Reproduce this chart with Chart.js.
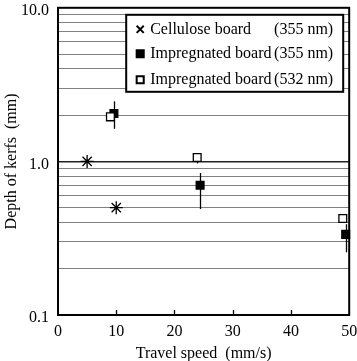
<!DOCTYPE html>
<html><head><meta charset="utf-8">
<script src="https://cdn.jsdelivr.net/npm/chart.js@4/dist/chart.umd.min.js"></script>
<style>html,body{margin:0;padding:0;background:#fff;overflow:hidden}#wrap{width:357px;height:361px;position:relative}</style>
</head><body><div id="wrap"><canvas id="c"></canvas></div>
<script>
const xTickValues = [0, 10, 20, 30, 40, 50];
const yTickLabels = [0.1, 1, 10];
const seriesNames = ['Cellulose board', 'Impregnated board', 'Impregnated board'];
const seriesWavelengths = ['(355 nm)', '(355 nm)', '(532 nm)'];
const celluloseSpeed = [5, 10];
const celluloseDepth = [1.0, 0.5];
const imp355Speed = [9.6, 24.4, 49.4];
const imp355Depth = [2.05, 0.70, 0.335];
const imp355Low = [1.63, 0.49, 0.256];
const imp355High = [2.46, 0.84, 0.39];
const imp532Speed = [9.0, 23.9, 48.9];
const imp532Depth = [1.95, 1.06, 0.425];
const imp532Low = [null, 0.97, null];
const imp532High = [null, 1.13, null];

const FONT = {family: "'Liberation Serif', 'Times New Roman', serif", size: 16};
const pts = (xs, ys) => xs.map((x, i) => ({x: x, y: ys[i]}));

const errorBars = {
  id: 'errorBars',
  beforeDatasetsDraw(chart) {
    const ctx = chart.ctx, xs = chart.scales.x, ys = chart.scales.y;
    const sets = [[imp355Speed, imp355Low, imp355High], [imp532Speed, imp532Low, imp532High]];
    ctx.save();
    ctx.strokeStyle = '#000';
    ctx.lineWidth = 1.3;
    sets.forEach(([sx, lo, hi]) => {
      sx.forEach((v, i) => {
        if (lo[i] == null) return;
        const px = Math.round(xs.getPixelForValue(v)) + 0.5;
        ctx.beginPath();
        ctx.moveTo(px, ys.getPixelForValue(lo[i]));
        ctx.lineTo(px, ys.getPixelForValue(hi[i]));
        ctx.stroke();
      });
    });
    ctx.restore();
  }
};

function marker(ctx, style, r, x, y, fill) {
  if (Chart.helpers && Chart.helpers.drawPoint) {
    ctx.fillStyle = fill; ctx.strokeStyle = '#000';
    Chart.helpers.drawPoint(ctx, {pointStyle: style, radius: r, rotation: 0, borderWidth: 1.1}, x, y);
  }
}

const frameLegend = {
  id: 'frameLegend',
  afterDatasetsDraw(chart) {
    const ctx = chart.ctx, a = chart.chartArea, xs = chart.scales.x;
    ctx.save();
    ctx.strokeStyle = '#000';
    ctx.lineWidth = 1.3;
    xTickValues.forEach(v => {
      if (v === xs.min || v === xs.max) return;
      const px = Math.round(xs.getPixelForValue(v)) + 0.5;
      ctx.beginPath(); ctx.moveTo(px, a.bottom); ctx.lineTo(px, a.bottom - 5); ctx.stroke();
    });
    ctx.lineWidth = 2;
    ctx.strokeRect(a.left, a.top, a.right - a.left, a.bottom - a.top);
    ctx.restore();
  },
  afterDraw(chart) {
    const ctx = chart.ctx, a = chart.chartArea;
    const L = a.right - 223, T = a.top + 7, R = a.right - 6, B = a.top + 84;
    ctx.save();
    ctx.fillStyle = '#fff';
    ctx.fillRect(L, T, R - L, B - T);
    ctx.strokeStyle = '#000'; ctx.lineWidth = 2;
    ctx.strokeRect(L, T, R - L, B - T);
    const rows = [T + 14.5, T + 39, T + 65];
    const styles = [['crossRot', 5, '#000'], ['rect', 5, '#000'], ['rect', 5, '#fff']];
    ctx.font = `${FONT.size}px ${FONT.family}`;
    ctx.textBaseline = 'middle';
    rows.forEach((y, i) => {
      marker(ctx, styles[i][0], styles[i][1], L + 14, y, styles[i][2]);
      ctx.fillStyle = '#000';
      ctx.textAlign = 'left';
      ctx.fillText(seriesNames[i], L + 24, y);
      ctx.textAlign = 'right';
      ctx.fillText(seriesWavelengths[i], R - 10, y);
    });
    ctx.restore();
  }
};

new Chart(document.getElementById('c'), {
  type: 'scatter',
  data: {
    datasets: [
      {label: seriesNames[2] + ' ' + seriesWavelengths[2], data: pts(imp532Speed, imp532Depth), order: 0,
       pointStyle: 'rect', pointRadius: 5.5, backgroundColor: '#fff', borderColor: '#000', borderWidth: 1.3, clip: false},
      {label: seriesNames[1] + ' ' + seriesWavelengths[1], data: pts(imp355Speed, imp355Depth), order: 1,
       pointStyle: 'rect', pointRadius: 5.5, backgroundColor: '#000', borderColor: '#000', borderWidth: 1.3, clip: false},
      {label: seriesNames[0] + ' ' + seriesWavelengths[0], data: pts(celluloseSpeed, celluloseDepth), order: 2,
       pointStyle: 'star', pointRadius: 6.5, backgroundColor: '#000', borderColor: '#000', borderWidth: 1.3, clip: false}
    ]
  },
  options: {
    responsive: true, maintainAspectRatio: false, animation: false,
    layout: {padding: {top: 5, right: 5, left: 0, bottom: 0}},
    plugins: {legend: {display: false}, tooltip: {enabled: false}},
    scales: {
      x: {
        type: 'linear', min: 0, max: 50,
        afterBuildTicks(s) { s.ticks = xTickValues.map(v => ({value: v})); },
        ticks: {font: FONT, color: '#000', padding: 7, autoSkip: false, maxRotation: 0},
        grid: {display: false, drawTicks: false},
        border: {display: false},
        title: {display: true, text: 'Travel speed  (mm/s)', font: FONT, color: '#000', padding: {top: 0, bottom: -2}},
        afterFit(s) { s.height = 46; s.paddingLeft = 0; s.paddingRight = 0; }
      },
      y: {
        type: 'logarithmic', min: 0.1, max: 10,
        afterBuildTicks(s) {
          const t = [];
          [0.1, 1].forEach(d => { for (let k = 1; k < 10; k++) t.push({value: +(d * k).toFixed(2)}); });
          t.push({value: 10});
          s.ticks = t;
        },
        ticks: {font: FONT, color: '#000', padding: 9, autoSkip: false, labelOffset: 3,
                callback: v => yTickLabels.includes(v) ? Number(v).toFixed(1) : ''},
        grid: {drawTicks: false,
               color: c => (c.tick && c.tick.value === 1) ? '#222' : '#808080',
               lineWidth: c => (c.tick && c.tick.value === 1) ? 1.6 : 1},
        border: {display: false},
        title: {display: true, text: 'Depth of kerfs  (mm)', font: FONT, color: '#000', padding: {top: 2, bottom: 0}},
        afterFit(s) { s.width = 58; s.paddingTop = 0; s.paddingBottom = 0; }
      }
    }
  },
  plugins: [errorBars, frameLegend]
});
</script>
</body></html>
